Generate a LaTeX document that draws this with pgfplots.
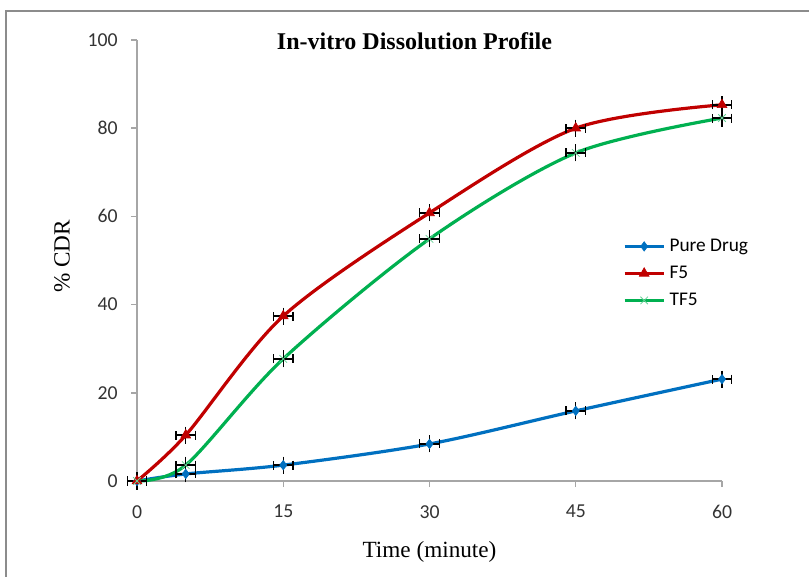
\documentclass[border=0pt]{standalone}
\usepackage{pgfplots}
\pgfplotsset{compat=1.18}
\usepackage{fontspec}
\setmainfont{Liberation Serif}
\newfontfamily\calibri{Carlito}
\definecolor{cblue}{HTML}{0070C0}
\definecolor{cred}{HTML}{C00000}
\definecolor{cgreen}{HTML}{00B050}
\definecolor{axgray}{HTML}{A6A6A6}
\definecolor{framegray}{HTML}{8C8C8C}

\pgfplotstableread{
x  y    ex ey
0  0    1  0.9
5  1.6  1  0.9
15 3.6  1  0.9
30 8.4  1  0.9
45 15.9 1  0.9
60 23.1 1  0.9
}\puredrug
\pgfplotstableread{
x  y    ex ey
0  0    1  0.9
5  10.4 1  0.9
15 37.4 1  0.9
30 60.8 1  0.9
45 80.0 1  0.9
60 85.3 1  0.9
}\ffive
\pgfplotstableread{
x  y    ex ey
0  0    1  0.9
5  3.6  1  0.9
15 27.7 1  0.9
30 54.9 1  0.9
45 74.4 1  0.9
60 82.3 1  0.9
}\tffive

\begin{document}
\begin{tikzpicture}
\useasboundingbox (-102.75pt,-72pt) rectangle (504pt,360.75pt);
\draw[framegray, line width=1.6pt] (-98.25pt,-90pt) -- (-98.25pt,352.5pt) -- (520pt,352.5pt);
\begin{axis}[
  at={(0pt,0pt)}, anchor=south west,
  scale only axis,
  width=438.75pt, height=330.75pt,
  xmin=0, xmax=60, ymin=0, ymax=100,
  clip=false,
  axis lines*=left,
  axis line style={axgray, line width=1.1pt},
  tick style={axgray, line width=1.1pt},
  tick align=outside,
  major tick length=4.5pt,
  xtick={0,15,30,45,60},
  ytick={0,20,40,60,80,100},
  /pgf/number format/assume math mode=true,
  ticklabel style={font=\calibri\fontsize{14.8}{17}\selectfont, text=black!80},
  xticklabel style={anchor=center, yshift=-18.5pt},
  yticklabel style={anchor=east, inner sep=0pt, xshift=-9.75pt},
  xlabel={Time (minute)},
  ylabel={\% CDR},
  label style={font=\fontsize{17.4}{20}\selectfont},
  xlabel style={at={(axis description cs:0.5,-0.161)}, anchor=center},
  ylabel style={at={(axis description cs:-0.128,0.509)}, anchor=center, rotate=0},
  legend cell align=left,
  legend style={at={(axis description cs:0.8305,0.553)}, anchor=north west,
    draw=none, fill=none, inner sep=0pt, column sep=3.2pt, row sep=6.75pt,
    font=\calibri\fontsize{14.5}{17}\selectfont,
    nodes={inner sep=0pt, text height=10.5pt, text depth=3pt}},
  legend image code/.code={\draw[mark repeat=2,mark phase=2] plot coordinates {(0pt,0pt) (14.6pt,0pt) (29.25pt,0pt)};},
  every axis plot/.append style={line width=2.4pt, smooth, tension=0.5},
  error bars/error bar style={draw=black, solid, line width=1.1pt},
  error bars/error mark options={draw=black, solid, line width=1.1pt, mark size=3.4pt},
  errx/.style={forget plot, draw=none, mark=none,
    error bars/.cd, x dir=both, x explicit, error mark=|},
  erry/.style={forget plot, draw=none, mark=none,
    error bars/.cd, y dir=both, y explicit, error mark=-},
]
\addplot[cblue, mark=diamond*, mark size=3.5pt, mark options={solid, line width=0.5pt}]
  table[x=x, y=y] {\puredrug};
\addlegendentry{Pure Drug}
\addplot[cred, mark=triangle*, mark size=4.2pt, mark options={solid, line width=0.5pt}]
  table[x=x, y=y] {\ffive};
\addlegendentry{F5}
\addplot[cgreen, mark=x, mark size=4pt, mark options={solid, line width=0.6pt, cgreen!60}]
  table[x=x, y=y] {\tffive};
\addlegendentry{TF5}
\addplot[errx] table[x=x, y=y, x error=ex] {\puredrug};
\addplot[erry] table[x=x, y=y, y error=ey] {\puredrug};
\addplot[errx] table[x=x, y=y, x error=ex] {\ffive};
\addplot[erry] table[x=x, y=y, y error=ey] {\ffive};
\addplot[errx] table[x=x, y=y, x error=ex] {\tffive};
\addplot[erry] table[x=x, y=y, y error=ey] {\tffive};
\node[font=\bfseries\fontsize{18}{21}\selectfont, anchor=center] at (axis cs:28.46,99.8) {In-vitro Dissolution Profile};
\end{axis}
\end{tikzpicture}
\end{document}
